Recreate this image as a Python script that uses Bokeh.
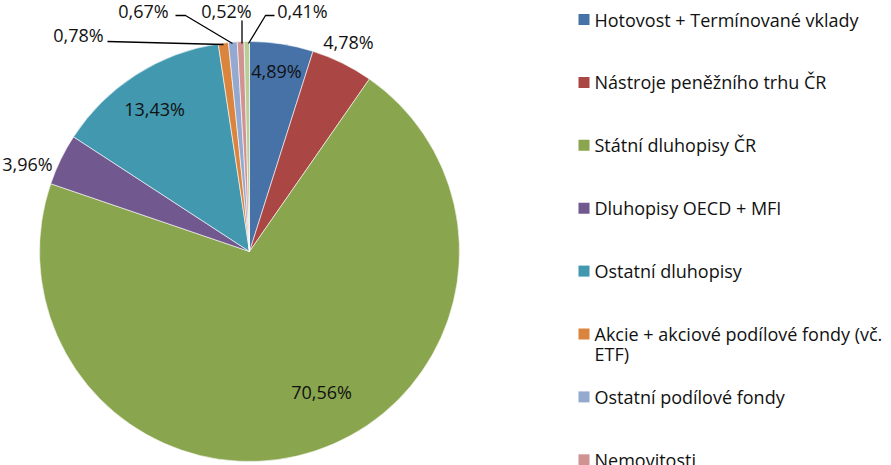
import math
import textwrap
from bokeh.plotting import figure
from bokeh.models import Range1d, ColumnDataSource
from bokeh.core.properties import value
from bokeh.embed import file_html
from bokeh.resources import INLINE

# ---- data ----
categories = [
    "Hotovost + Termínované vklady",
    "Nástroje peněžního trhu ČR",
    "Státní dluhopisy ČR",
    "Dluhopisy OECD + MFI",
    "Ostatní dluhopisy",
    "Akcie + akciové podílové fondy (vč. ETF)",
    "Ostatní podílové fondy",
    "Nemovitosti",
    "Ostatní",
]
shares = [4.89, 4.78, 70.56, 3.96, 13.43, 0.78, 0.67, 0.52, 0.41]
colors = ["#4672A8", "#AA4644", "#89A54E", "#71588F", "#4198AF",
          "#DB843D", "#93A9CF", "#D19392", "#B9CD96"]

W, H = 891, 465
FONT = "Open Sans"
FS = "18px"

def Y(py):
    return H - py

p = figure(width=W, height=H, output_backend="svg", toolbar_location=None,
           x_range=Range1d(0, W), y_range=Range1d(0, H), min_border=0)
p.axis.visible = False
p.grid.visible = False
p.outline_line_color = None
p.background_fill_color = "white"
p.border_fill_color = "white"

# ---- pie ----
cx, cy, R = 249, Y(251), 210
total = sum(shares)
starts, ends = [], []
c = 0.0
for s in shares:
    starts.append(math.pi / 2 - 2 * math.pi * c / total)
    c += s
    ends.append(math.pi / 2 - 2 * math.pi * c / total)

src = ColumnDataSource(dict(start=starts, end=ends, color=colors))
p.wedge(x=cx, y=cy, radius=R, start_angle="start", end_angle="end",
        direction="clock", fill_color="color", line_color="white",
        line_width=0.6, source=src)

# ---- data labels ----
label_pos = [(276, 70), (348, 41), (321, 391), (27, 163), (154, 108),
             (78, 34), (143, 10.5), (226, 10.5), (302, 10.5)]
labels = [("%.2f%%" % s).replace(".", ",") for s in shares]
p.text(x=[q[0] for q in label_pos], y=[Y(q[1]) for q in label_pos], text=labels,
       text_align="center", text_baseline="middle",
       text_font=value(FONT), text_font_size=FS, text_color="#111111")

# leader lines
leaders = [
    [(107, 41), (223, 44)],
    [(175, 15), (185, 15), (232, 43)],
    [(241.5, 20), (241.5, 43)],
    [(274, 15), (265, 15), (248, 43)],
]
p.multi_line(xs=[[a[0] for a in l] for l in leaders],
             ys=[[Y(a[1]) for a in l] for l in leaders],
             line_color="black", line_width=1.3)

# ---- legend ----
lx, ly0, step = 578, 19, 62.9
sq = 11
rx, ry, rc = [], [], []
tx, ty, tt = [], [], []
for i, (name, col) in enumerate(zip(categories, colors)):
    yy = ly0 + i * step
    if yy > H:
        continue
    rx.append(lx + sq / 2)
    ry.append(Y(yy))
    rc.append(col)
    for k, line in enumerate(textwrap.wrap(name, 35)):
        tx.append(lx + 16)
        ty.append(Y(yy + k * 20))
        tt.append(line)
p.rect(x=rx, y=ry, width=sq, height=sq, fill_color=rc, line_color=None)
p.text(x=tx, y=ty, text=tt, text_align="left", text_baseline="middle",
       text_font=value(FONT), text_font_size=FS, text_color="#111111")

open("out.html", "w").write(file_html(p, INLINE))
